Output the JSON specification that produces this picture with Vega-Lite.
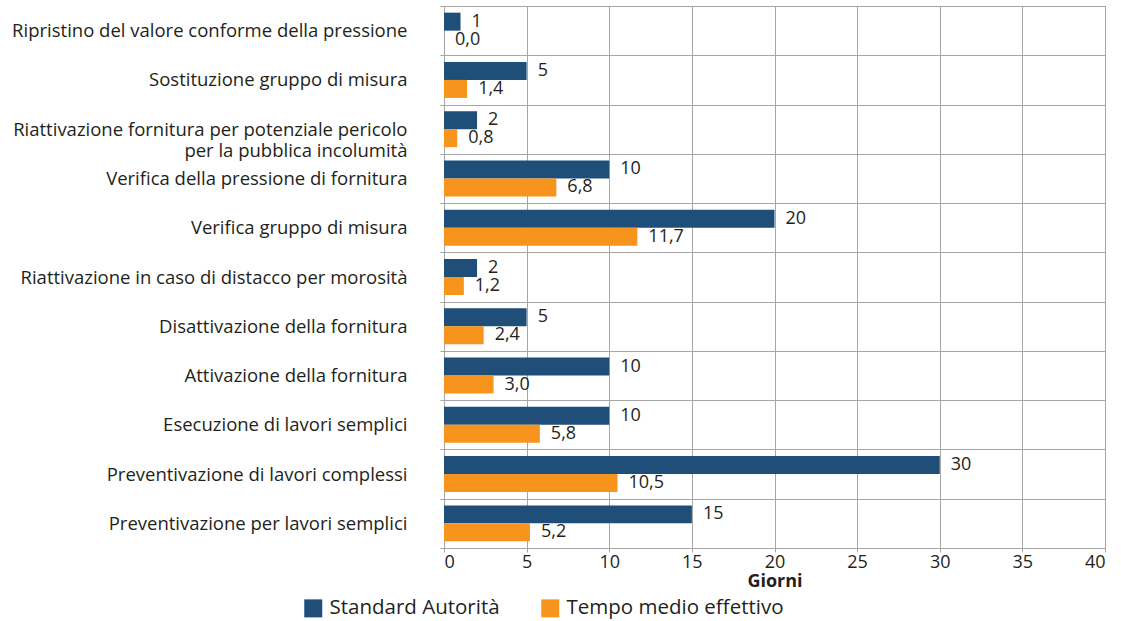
{
  "$schema": "https://vega.github.io/schema/vega-lite/v6.json",
  "width": 661,
  "height": 542,
  "autosize": {"type": "none"},
  "padding": {"left": 444, "top": 6, "right": 16, "bottom": 73},
  "config": {
    "font": "Open Sans",
    "view": {"stroke": "#a6a6a6", "strokeWidth": 1},
    "axis": {"labelColor": "#231f20", "titleColor": "#231f20", "gridColor": "#a6a6a6", "tickColor": "#a6a6a6", "domainColor": "#a6a6a6", "gridOpacity": 1}
  },
  "data": {
    "values": [
      {"cat": "Ripristino del valore conforme della pressione", "series": "Standard Autorità", "value": 1, "label": "1"},
      {"cat": "Ripristino del valore conforme della pressione", "series": "Tempo medio effettivo", "value": 0.0, "label": "0,0"},
      {"cat": "Sostituzione gruppo di misura", "series": "Standard Autorità", "value": 5, "label": "5"},
      {"cat": "Sostituzione gruppo di misura", "series": "Tempo medio effettivo", "value": 1.4, "label": "1,4"},
      {"cat": "Riattivazione fornitura per potenziale pericolo|per la pubblica incolumità", "series": "Standard Autorità", "value": 2, "label": "2"},
      {"cat": "Riattivazione fornitura per potenziale pericolo|per la pubblica incolumità", "series": "Tempo medio effettivo", "value": 0.8, "label": "0,8"},
      {"cat": "Verifica della pressione di fornitura", "series": "Standard Autorità", "value": 10, "label": "10"},
      {"cat": "Verifica della pressione di fornitura", "series": "Tempo medio effettivo", "value": 6.8, "label": "6,8"},
      {"cat": "Verifica gruppo di misura", "series": "Standard Autorità", "value": 20, "label": "20"},
      {"cat": "Verifica gruppo di misura", "series": "Tempo medio effettivo", "value": 11.7, "label": "11,7"},
      {"cat": "Riattivazione in caso di distacco per morosità", "series": "Standard Autorità", "value": 2, "label": "2"},
      {"cat": "Riattivazione in caso di distacco per morosità", "series": "Tempo medio effettivo", "value": 1.2, "label": "1,2"},
      {"cat": "Disattivazione della fornitura", "series": "Standard Autorità", "value": 5, "label": "5"},
      {"cat": "Disattivazione della fornitura", "series": "Tempo medio effettivo", "value": 2.4, "label": "2,4"},
      {"cat": "Attivazione della fornitura", "series": "Standard Autorità", "value": 10, "label": "10"},
      {"cat": "Attivazione della fornitura", "series": "Tempo medio effettivo", "value": 3.0, "label": "3,0"},
      {"cat": "Esecuzione di lavori semplici", "series": "Standard Autorità", "value": 10, "label": "10"},
      {"cat": "Esecuzione di lavori semplici", "series": "Tempo medio effettivo", "value": 5.8, "label": "5,8"},
      {"cat": "Preventivazione di lavori complessi", "series": "Standard Autorità", "value": 30, "label": "30"},
      {"cat": "Preventivazione di lavori complessi", "series": "Tempo medio effettivo", "value": 10.5, "label": "10,5"},
      {"cat": "Preventivazione per lavori semplici", "series": "Standard Autorità", "value": 15, "label": "15"},
      {"cat": "Preventivazione per lavori semplici", "series": "Tempo medio effettivo", "value": 5.2, "label": "5,2"}
    ]
  },
  "encoding": {
    "y": {
      "field": "cat", "type": "nominal", "sort": null,
      "scale": {"paddingInner": 0, "paddingOuter": 0},
      "axis": {
        "title": null, "tickBand": "extent", "grid": true, "domain": false,
        "tickSize": 4, "labelPadding": 33, "labelFontSize": 18.5, "labelLimit": 600,
        "labelExpr": "split(datum.label, '|')", "labelLineHeight": 21,
        "encode": {"labels": {"update": {"baseline": {"signal": "indexof(datum.value, '|') >= 0 ? 'line-bottom' : 'middle'"}}}}
      }
    },
    "yOffset": {
      "field": "series", "type": "nominal",
      "sort": ["Standard Autorità", "Tempo medio effettivo"],
      "scale": {"paddingInner": 0, "paddingOuter": 0.37}
    }
  },
  "layer": [
    {
      "mark": {"type": "bar"},
      "encoding": {
        "x": {
          "field": "value", "type": "quantitative",
          "scale": {"domain": [0, 40], "nice": false},
          "axis": {
            "title": "Giorni", "values": [0, 5, 10, 15, 20, 25, 30, 35, 40],
            "grid": true, "domain": false, "tickSize": 4, "labelFontSize": 18, "labelPadding": 1,
            "titleFontSize": 18, "titleFontWeight": "bold", "titlePadding": 1
          }
        },
        "color": {
          "field": "series", "type": "nominal",
          "sort": ["Standard Autorità", "Tempo medio effettivo"],
          "scale": {"range": ["#1f4e79", "#f7941d"]},
          "legend": {
            "title": null, "orient": "none", "direction": "horizontal",
            "legendX": -141, "legendY": 592, "padding": 0,
            "symbolType": "square", "symbolSize": 324, "symbolStrokeWidth": 0,
            "labelFontSize": 20.5, "labelColor": "#231f20", "labelLimit": 400,
            "columnPadding": 40, "labelOffset": 6
          }
        }
      }
    },
    {
      "mark": {"type": "text", "align": "left", "dx": 11, "fontSize": 18, "color": "#231f20"},
      "encoding": {
        "x": {"field": "value", "type": "quantitative"},
        "text": {"field": "label"}
      }
    }
  ]
}
